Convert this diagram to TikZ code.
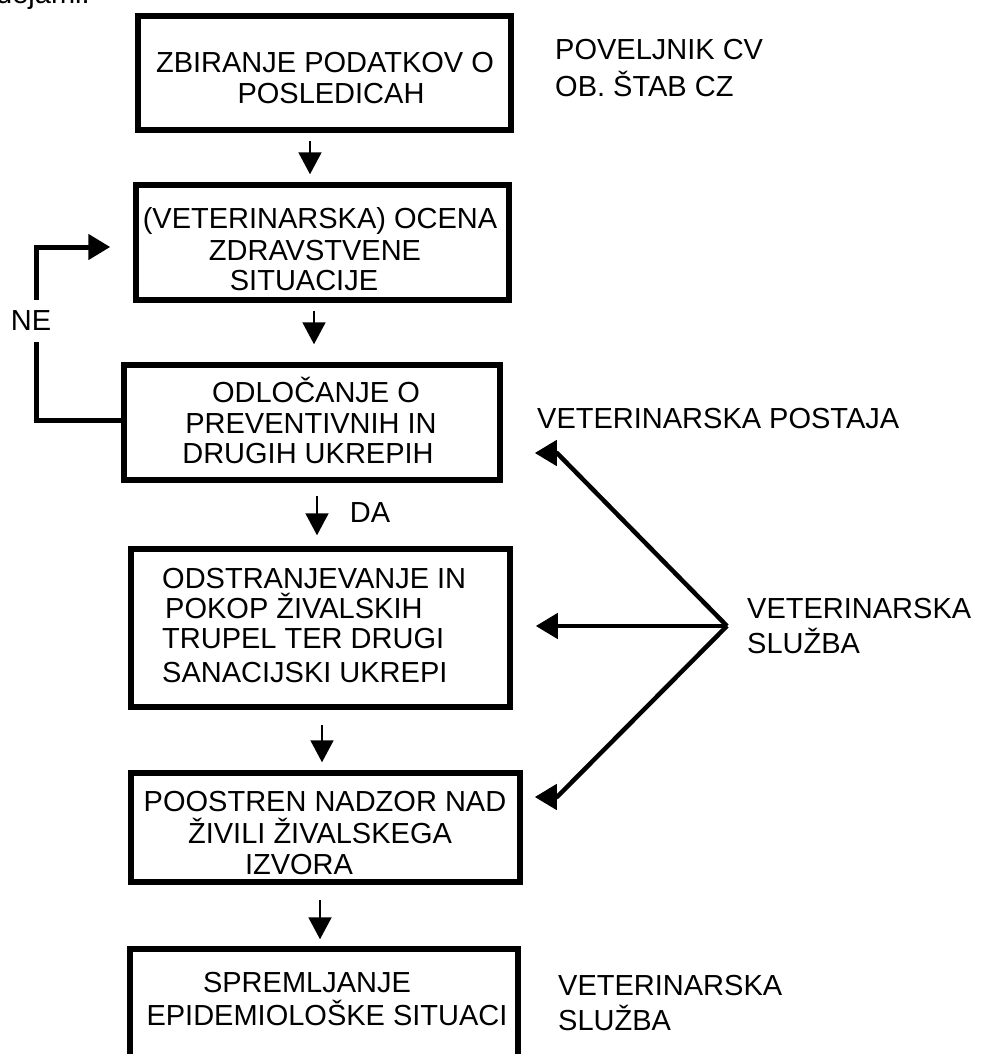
\documentclass[tikz,border=0pt]{standalone}
\usepackage{fontspec}
\setmainfont{Liberation Sans}
\usetikzlibrary{arrows.meta}
\begin{document}
\begin{tikzpicture}[x=1pt,y=-1pt,
  every node/.style={font=\fontsize{29}{31.5}\selectfont, inner sep=0pt},
  box/.style={draw, line width=5.5pt, rectangle, inner sep=0pt},
  txt/.style={anchor=base},
  side/.style={anchor=base west},
  varrow/.style={line width=2pt, -{Triangle[width=23pt,length=22pt]}},
  looparrow/.style={line width=5pt, -{Triangle[width=25pt,length=22pt]}},
  fanline/.style={line width=4.5pt, line join=round, -{Triangle[width=25pt,length=22pt]}}]
\useasboundingbox (0,0) rectangle (982,1054);
\clip (0,0) rectangle (982,1054);

% partially visible line at the top
\node[side, overlay] (cut) at (-4,4) {dejami:};

% boxes
\node[box, minimum width=373pt, minimum height=114pt] (box1) at (324.5,73) {};
\node[box, minimum width=373pt, minimum height=115pt] (box2) at (322.5,242.5) {};
\node[box, minimum width=376pt, minimum height=115pt] (box3) at (312,422.5) {};
\node[box, minimum width=379pt, minimum height=158pt] (box4) at (320.5,628) {};
\node[box, minimum width=389pt, minimum height=109pt] (box5) at (325.5,827.5) {};
\node[box, overlay, minimum width=388pt, minimum height=151pt] (box6) at (324,1024.5) {};

% box texts
\node[txt] (t1a) at (325,73) {ZBIRANJE PODATKOV O};
\node[txt] (t1b) at (331,103) {POSLEDICAH};
\node[txt] (t2a) at (320,228) {(VETERINARSKA) OCENA};
\node[txt] (t2b) at (315,260) {ZDRAVSTVENE};
\node[txt] (t2c) at (304,290) {SITUACIJE};
\node[txt] (t3a) at (316,402) {ODLOČANJE O};
\node[txt] (t3b) at (311,433) {PREVENTIVNIH IN};
\node[txt] (t3c) at (308,463) {DRUGIH UKREPIH};
\node[side] (t4a) at (162,588) {ODSTRANJEVANJE IN};
\node[side] (t4b) at (165,618) {POKOP ŽIVALSKIH};
\node[side] (t4c) at (162,648) {TRUPEL TER DRUGI};
\node[side] (t4d) at (162,682) {SANACIJSKI UKREPI};
\node[txt] (t5a) at (325,811) {POOSTREN NADZOR NAD};
\node[txt] (t5b) at (320,843) {ŽIVILI ŽIVALSKEGA};
\node[txt] (t5c) at (299,874) {IZVORA};
\node[txt] (t6a) at (307,992) {SPREMLJANJE};
\node[txt] (t6b) at (327,1025) {EPIDEMIOLOŠKE SITUACI};

% side labels
\node[side] (s1a) at (555,60) {POVELJNIK CV};
\node[side] (s1b) at (555,97) {OB. ŠTAB CZ};
\node[side] (s2) at (537,428) {VETERINARSKA POSTAJA};
\node[side] (s3a) at (747,618) {VETERINARSKA};
\node[side] (s3b) at (747,653) {SLUŽBA};
\node[side] (s4a) at (558,995) {VETERINARSKA};
\node[side] (s4b) at (558,1030) {SLUŽBA};

% vertical arrows
\coordinate (a1) at ([xshift=-14.5pt]box1.south);
\draw[varrow, shorten <=8pt, shorten >=8pt] (a1) -- (a1 |- box2.north);
\coordinate (a2) at ([xshift=-8.5pt]box2.south);
\draw[varrow, shorten <=8pt, shorten >=18pt] (a2) -- (a2 |- box3.north);
\coordinate (a3) at ([xshift=5pt]box3.south);
\draw[varrow, shorten <=13pt, shorten >=11pt] (a3) -- (a3 |- box4.north);
\node[txt] (da) at (370,522) {DA};
\coordinate (a4) at ([xshift=1.5pt]box4.south);
\draw[varrow, shorten <=15pt, shorten >=8pt] (a4) -- (a4 |- box5.north);
\coordinate (a5) at ([xshift=-5.5pt]box5.south);
\draw[varrow, shorten <=15pt, shorten >=7pt] (a5) -- (a5 |- box6.north);

% NE loop
\coordinate (loopcorner) at (36,247);
\draw[looparrow, shorten >=23pt] ([yshift=2.5pt]box3.west) -| (loopcorner) -- (loopcorner -| box2.west);
\node[fill=white, inner xsep=1pt, minimum height=42pt] (ne) at (31,321) {NE};

% fan from VETERINARSKA SLUZBA
\coordinate (apex) at (727,626);
\coordinate (f1) at (557,453);
\coordinate (f3) at (557,797);
\draw[fanline] (apex) -- (f1) -- ([xshift=32pt]box3.east |- f1);
\draw[fanline] (apex) -- ([xshift=23pt]box4.east |- apex);
\draw[fanline] (apex) -- (f3) -- ([xshift=12pt]box5.east |- f3);
\end{tikzpicture}
\end{document}
